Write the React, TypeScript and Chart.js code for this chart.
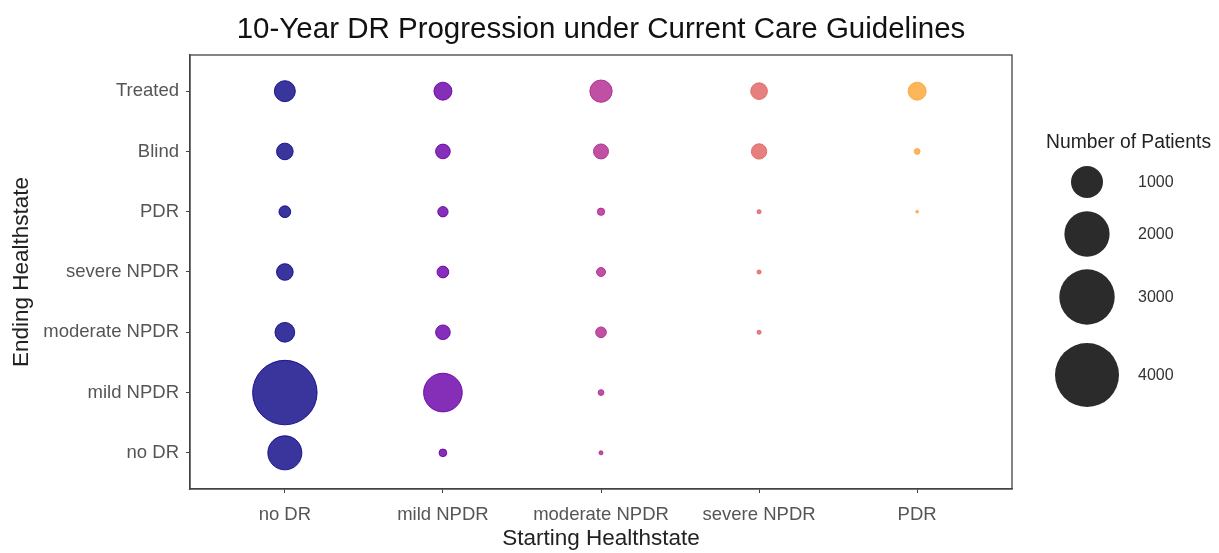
import React, { useEffect, useRef } from "react";
import { Chart, registerables } from "chart.js";

Chart.register(...registerables);

const startStates = ["no DR", "mild NPDR", "moderate NPDR", "severe NPDR", "PDR"];
const endStates = ["no DR", "mild NPDR", "moderate NPDR", "severe NPDR", "PDR", "Blind", "Treated"];

// Number of patients ending in each state (index order = endStates), per starting state
const fromNoDR = [1130, 4060, 380, 270, 135, 270, 430];
const fromMildNPDR = [58, 1460, 210, 135, 105, 210, 315];
const fromModerateNPDR = [16, 32, 112, 79, 52, 220, 485];
const fromSevereNPDR = [null, null, 16, 16, 16, 230, 270];
const fromPDR = [null, null, null, null, 7, 32, 315];

const seriesValues: (number | null)[][] = [fromNoDR, fromMildNPDR, fromModerateNPDR, fromSevereNPDR, fromPDR];
const seriesColors = ["#0D0887", "#6A00A8", "#B12A90", "#E16462", "#FCA636"];

const legendValues = [1000, 2000, 3000, 4000];
const legendTitle = "Number of Patients";
const chartTitle = "10-Year DR Progression under Current Care Guidelines";
const xTitle = "Starting Healthstate";
const yTitle = "Ending Healthstate";

const FONT = "'Liberation Sans', Arial, sans-serif";
const SIZE_K = 16;
const radiusFor = (n: number) => SIZE_K * Math.sqrt(n / 1000);

function withAlpha(hex: string, a: number) {
  const r = parseInt(hex.slice(1, 3), 16);
  const g = parseInt(hex.slice(3, 5), 16);
  const b = parseInt(hex.slice(5, 7), 16);
  return `rgba(${r},${g},${b},${a})`;
}

export default function App() {
  const ref = useRef<HTMLCanvasElement | null>(null);

  useEffect(() => {
    if (!ref.current) return;

    const datasets = seriesValues.map((vals, i) => ({
      label: startStates[i],
      data: vals
        .map((v, j) => (v == null ? null : { x: i, y: j, r: radiusFor(v) }))
        .filter((p) => p !== null) as { x: number; y: number; r: number }[],
      backgroundColor: withAlpha(seriesColors[i], 0.82),
      borderColor: withAlpha(seriesColors[i], 0.9),
      borderWidth: 1,
    }));

    const decor = {
      id: "decor",
      afterDraw(chart: any) {
        const ctx = chart.ctx as CanvasRenderingContext2D;
        const a = chart.chartArea;
        ctx.save();
        // panel border
        ctx.strokeStyle = "#444";
        ctx.lineWidth = 1.3;
        ctx.strokeRect(a.left, a.top, a.right - a.left, a.bottom - a.top);

        // title
        ctx.fillStyle = "#111";
        ctx.font = `29.5px ${FONT}`;
        ctx.textAlign = "center";
        ctx.textBaseline = "middle";
        ctx.fillText(chartTitle, (a.left + a.right) / 2, 30);

        // axis titles
        ctx.fillStyle = "#222";
        ctx.font = `22.5px ${FONT}`;
        ctx.fillText(xTitle, (a.left + a.right) / 2, 539);
        ctx.save();
        ctx.translate(22, (a.top + a.bottom) / 2);
        ctx.rotate(-Math.PI / 2);
        ctx.fillText(yTitle, 0, 0);
        ctx.restore();

        // size legend
        ctx.textAlign = "left";
        ctx.font = `19.3px ${FONT}`;
        ctx.fillStyle = "#222";
        ctx.fillText(legendTitle, 1046, 143);
        const centersY = [182, 234, 297, 375];
        legendValues.forEach((v, k) => {
          ctx.beginPath();
          ctx.arc(1087, centersY[k], radiusFor(v), 0, Math.PI * 2);
          ctx.fillStyle = "#2b2b2b";
          ctx.fill();
          ctx.fillStyle = "#333";
          ctx.font = `16px ${FONT}`;
          ctx.fillText(String(v), 1138, centersY[k] + 1);
        });
        ctx.restore();
      },
    };

    const chart = new Chart(ref.current, {
      type: "bubble",
      data: { datasets },
      plugins: [decor],
      options: {
        animation: false,
        responsive: true,
        maintainAspectRatio: false,
        layout: { padding: { top: 55, right: 207, left: 0, bottom: 0 } },
        plugins: {
          legend: { display: false },
          title: { display: false },
          tooltip: { enabled: false },
        },
        scales: {
          x: {
            type: "linear",
            min: -0.6,
            max: 4.6,
            afterFit: (s: any) => {
              s.height = 64;
            },
            afterBuildTicks: (s: any) => {
              s.ticks = startStates.map((_, i) => ({ value: i }));
            },
            ticks: {
              callback: (v: any) => startStates[Number(v)] ?? "",
              font: { size: 18.5, family: FONT },
              color: "#555",
              padding: 11,
              maxRotation: 0,
              autoSkip: false,
            },
            grid: { drawOnChartArea: false, drawTicks: true, tickLength: 4, color: "#444" },
            border: { display: true, color: "#444", width: 1.3 },
          },
          y: {
            type: "linear",
            min: -0.6,
            max: 6.6,
            afterFit: (s: any) => {
              s.width = 190;
            },
            afterBuildTicks: (s: any) => {
              s.ticks = endStates.map((_, i) => ({ value: i }));
            },
            ticks: {
              callback: (v: any) => endStates[Number(v)] ?? "",
              font: { size: 18.5, family: FONT },
              color: "#555",
              padding: 7,
              autoSkip: false,
            },
            grid: { drawOnChartArea: false, drawTicks: true, tickLength: 4, color: "#444" },
            border: { display: true, color: "#444", width: 1.3 },
          },
        },
      },
    });

    return () => chart.destroy();
  }, []);

  return (
    <div style={{ position: "absolute", left: 0, top: 0, width: 1219, height: 553, background: "#fff" }}>
      <canvas ref={ref} />
    </div>
  );
}
